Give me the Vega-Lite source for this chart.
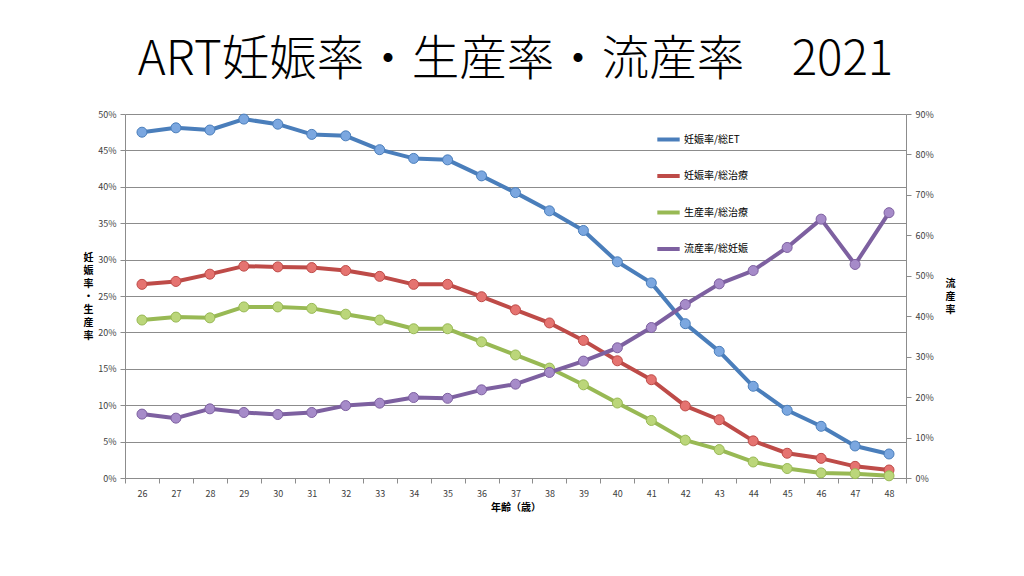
{
  "$schema": "https://vega.github.io/schema/vega-lite/v6.json",
  "width": 781,
  "height": 364,
  "autosize": {"type": "none"},
  "padding": {"left": 125, "top": 114, "right": 118, "bottom": 98},
  "background": "white",
  "title": {
    "text": "ART妊娠率・生産率・流産率　2021",
    "font": "Noto Sans CJK JP",
    "fontSize": 47.5,
    "fontWeight": 300,
    "color": "#000000",
    "anchor": "middle",
    "frame": "group",
    "offset": 26
  },
  "config": {
    "font": "Noto Sans CJK JP",
    "view": {"stroke": null},
    "axis": {
      "labelFont": "Noto Sans CJK JP",
      "titleFont": "Noto Sans CJK JP",
      "labelColor": "#404040",
      "labelFontSize": 9,
      "domainColor": "#8c8c8c",
      "tickColor": "#8c8c8c",
      "gridColor": "#8c8c8c",
      "gridOpacity": 1,
      "domainWidth": 1,
      "tickSize": 5
    }
  },
  "data": {
    "values": [
      {"age": 26, "series": "妊娠率/総ET", "rate": 0.475},
      {"age": 27, "series": "妊娠率/総ET", "rate": 0.481},
      {"age": 28, "series": "妊娠率/総ET", "rate": 0.478},
      {"age": 29, "series": "妊娠率/総ET", "rate": 0.493},
      {"age": 30, "series": "妊娠率/総ET", "rate": 0.486},
      {"age": 31, "series": "妊娠率/総ET", "rate": 0.472},
      {"age": 32, "series": "妊娠率/総ET", "rate": 0.470},
      {"age": 33, "series": "妊娠率/総ET", "rate": 0.451},
      {"age": 34, "series": "妊娠率/総ET", "rate": 0.439},
      {"age": 35, "series": "妊娠率/総ET", "rate": 0.437},
      {"age": 36, "series": "妊娠率/総ET", "rate": 0.415},
      {"age": 37, "series": "妊娠率/総ET", "rate": 0.392},
      {"age": 38, "series": "妊娠率/総ET", "rate": 0.367},
      {"age": 39, "series": "妊娠率/総ET", "rate": 0.340},
      {"age": 40, "series": "妊娠率/総ET", "rate": 0.297},
      {"age": 41, "series": "妊娠率/総ET", "rate": 0.268},
      {"age": 42, "series": "妊娠率/総ET", "rate": 0.212},
      {"age": 43, "series": "妊娠率/総ET", "rate": 0.174},
      {"age": 44, "series": "妊娠率/総ET", "rate": 0.126},
      {"age": 45, "series": "妊娠率/総ET", "rate": 0.093},
      {"age": 46, "series": "妊娠率/総ET", "rate": 0.071},
      {"age": 47, "series": "妊娠率/総ET", "rate": 0.044},
      {"age": 48, "series": "妊娠率/総ET", "rate": 0.033},
      {"age": 26, "series": "妊娠率/総治療", "rate": 0.266},
      {"age": 27, "series": "妊娠率/総治療", "rate": 0.270},
      {"age": 28, "series": "妊娠率/総治療", "rate": 0.280},
      {"age": 29, "series": "妊娠率/総治療", "rate": 0.291},
      {"age": 30, "series": "妊娠率/総治療", "rate": 0.290},
      {"age": 31, "series": "妊娠率/総治療", "rate": 0.289},
      {"age": 32, "series": "妊娠率/総治療", "rate": 0.285},
      {"age": 33, "series": "妊娠率/総治療", "rate": 0.277},
      {"age": 34, "series": "妊娠率/総治療", "rate": 0.266},
      {"age": 35, "series": "妊娠率/総治療", "rate": 0.266},
      {"age": 36, "series": "妊娠率/総治療", "rate": 0.249},
      {"age": 37, "series": "妊娠率/総治療", "rate": 0.231},
      {"age": 38, "series": "妊娠率/総治療", "rate": 0.213},
      {"age": 39, "series": "妊娠率/総治療", "rate": 0.189},
      {"age": 40, "series": "妊娠率/総治療", "rate": 0.161},
      {"age": 41, "series": "妊娠率/総治療", "rate": 0.135},
      {"age": 42, "series": "妊娠率/総治療", "rate": 0.099},
      {"age": 43, "series": "妊娠率/総治療", "rate": 0.080},
      {"age": 44, "series": "妊娠率/総治療", "rate": 0.051},
      {"age": 45, "series": "妊娠率/総治療", "rate": 0.034},
      {"age": 46, "series": "妊娠率/総治療", "rate": 0.027},
      {"age": 47, "series": "妊娠率/総治療", "rate": 0.016},
      {"age": 48, "series": "妊娠率/総治療", "rate": 0.011},
      {"age": 26, "series": "生産率/総治療", "rate": 0.217},
      {"age": 27, "series": "生産率/総治療", "rate": 0.221},
      {"age": 28, "series": "生産率/総治療", "rate": 0.220},
      {"age": 29, "series": "生産率/総治療", "rate": 0.235},
      {"age": 30, "series": "生産率/総治療", "rate": 0.235},
      {"age": 31, "series": "生産率/総治療", "rate": 0.233},
      {"age": 32, "series": "生産率/総治療", "rate": 0.225},
      {"age": 33, "series": "生産率/総治療", "rate": 0.217},
      {"age": 34, "series": "生産率/総治療", "rate": 0.205},
      {"age": 35, "series": "生産率/総治療", "rate": 0.205},
      {"age": 36, "series": "生産率/総治療", "rate": 0.187},
      {"age": 37, "series": "生産率/総治療", "rate": 0.169},
      {"age": 38, "series": "生産率/総治療", "rate": 0.151},
      {"age": 39, "series": "生産率/総治療", "rate": 0.128},
      {"age": 40, "series": "生産率/総治療", "rate": 0.103},
      {"age": 41, "series": "生産率/総治療", "rate": 0.079},
      {"age": 42, "series": "生産率/総治療", "rate": 0.052},
      {"age": 43, "series": "生産率/総治療", "rate": 0.039},
      {"age": 44, "series": "生産率/総治療", "rate": 0.022},
      {"age": 45, "series": "生産率/総治療", "rate": 0.013},
      {"age": 46, "series": "生産率/総治療", "rate": 0.007},
      {"age": 47, "series": "生産率/総治療", "rate": 0.006},
      {"age": 48, "series": "生産率/総治療", "rate": 0.003},
      {"age": 26, "series": "流産率/総妊娠", "rate": 0.158},
      {"age": 27, "series": "流産率/総妊娠", "rate": 0.148},
      {"age": 28, "series": "流産率/総妊娠", "rate": 0.171},
      {"age": 29, "series": "流産率/総妊娠", "rate": 0.162},
      {"age": 30, "series": "流産率/総妊娠", "rate": 0.157},
      {"age": 31, "series": "流産率/総妊娠", "rate": 0.162},
      {"age": 32, "series": "流産率/総妊娠", "rate": 0.179},
      {"age": 33, "series": "流産率/総妊娠", "rate": 0.185},
      {"age": 34, "series": "流産率/総妊娠", "rate": 0.199},
      {"age": 35, "series": "流産率/総妊娠", "rate": 0.197},
      {"age": 36, "series": "流産率/総妊娠", "rate": 0.218},
      {"age": 37, "series": "流産率/総妊娠", "rate": 0.232},
      {"age": 38, "series": "流産率/総妊娠", "rate": 0.261},
      {"age": 39, "series": "流産率/総妊娠", "rate": 0.289},
      {"age": 40, "series": "流産率/総妊娠", "rate": 0.322},
      {"age": 41, "series": "流産率/総妊娠", "rate": 0.372},
      {"age": 42, "series": "流産率/総妊娠", "rate": 0.429},
      {"age": 43, "series": "流産率/総妊娠", "rate": 0.480},
      {"age": 44, "series": "流産率/総妊娠", "rate": 0.513},
      {"age": 45, "series": "流産率/総妊娠", "rate": 0.570},
      {"age": 46, "series": "流産率/総妊娠", "rate": 0.640},
      {"age": 47, "series": "流産率/総妊娠", "rate": 0.528},
      {"age": 48, "series": "流産率/総妊娠", "rate": 0.656}
    ]
  },
  "encoding": {
    "x": {
      "field": "age",
      "type": "ordinal",
      "bandPosition": 0.5,
      "scale": {"type": "band", "paddingInner": 0, "paddingOuter": 0},
      "axis": {
        "labelAngle": 0,
        "tickBand": "extent",
        "grid": false,
        "labelPadding": 6,
        "title": "年齢（歳）",
        "titleFontSize": 10,
        "titleFontWeight": "bold",
        "titlePadding": 4,
        "titleColor": "#000000"
      }
    }
  },
  "layer": [
    {
      "transform": [{"filter": "datum.series !== '流産率/総妊娠'"}],
      "encoding": {
        "y": {
          "field": "rate",
          "type": "quantitative",
          "scale": {"domain": [0, 0.5], "nice": false},
          "axis": {
            "orient": "left",
            "values": [0, 0.05, 0.1, 0.15, 0.2, 0.25, 0.3, 0.35, 0.4, 0.45, 0.5],
            "format": ".0%",
            "grid": true,
            "labelPadding": 4,
            "title": ["妊", "娠", "率", "・", "生", "産", "率"],
            "titleAngle": 0,
            "titleAlign": "center",
            "titleBaseline": "middle",
            "titleFontSize": 10,
            "titleFontWeight": "bold",
            "titleLineHeight": 13,
            "titleX": -37,
            "titleY": 143,
            "titleColor": "#000000"
          }
        }
      },
      "layer": [
        {
          "mark": {"type": "line", "strokeWidth": 4, "strokeJoin": "round"},
          "encoding": {
            "color": {
              "field": "series",
              "type": "nominal",
              "scale": {
                "domain": ["妊娠率/総ET", "妊娠率/総治療", "生産率/総治療", "流産率/総妊娠"],
                "range": ["#4A7EBB", "#BE4B48", "#98B954", "#7D60A0"]
              },
              "legend": {
                "title": null,
                "orient": "none",
                "legendX": 530,
                "legendY": 12,
                "symbolType": "stroke",
                "symbolSize": 500,
                "symbolStrokeWidth": 4,
                "labelFontSize": 10,
                "labelColor": "#000000",
                "rowPadding": 14.5,
                "labelOffset": 2
              }
            }
          }
        },
        {
          "mark": {"type": "point", "filled": true, "size": 100, "strokeWidth": 1, "opacity": 1},
          "encoding": {
            "fill": {
              "field": "series",
              "type": "nominal",
              "scale": {
                "domain": ["妊娠率/総ET", "妊娠率/総治療", "生産率/総治療", "流産率/総妊娠"],
                "range": ["#7BA7E0", "#E57370", "#BBD67A", "#A68BC9"]
              },
              "legend": null
            },
            "stroke": {
              "field": "series",
              "type": "nominal",
              "scale": {
                "domain": ["妊娠率/総ET", "妊娠率/総治療", "生産率/総治療", "流産率/総妊娠"],
                "range": ["#4A7EBB", "#BE4B48", "#98B954", "#7D60A0"]
              },
              "legend": null
            }
          }
        }
      ]
    },
    {
      "transform": [{"filter": "datum.series === '流産率/総妊娠'"}],
      "encoding": {
        "y": {
          "field": "rate",
          "type": "quantitative",
          "scale": {"domain": [0, 0.9], "nice": false},
          "axis": {
            "orient": "right",
            "values": [0, 0.1, 0.2, 0.3, 0.4, 0.5, 0.6, 0.7, 0.8, 0.9],
            "format": ".0%",
            "grid": false,
            "labelPadding": 4,
            "title": ["流", "産", "率"],
            "titleAngle": 0,
            "titleAlign": "center",
            "titleBaseline": "middle",
            "titleFontSize": 10,
            "titleFontWeight": "bold",
            "titleLineHeight": 13,
            "titleX": 44,
            "titleY": 169,
            "titleColor": "#000000"
          }
        }
      },
      "layer": [
        {
          "mark": {"type": "line", "strokeWidth": 4, "strokeJoin": "round"},
          "encoding": {
            "color": {"field": "series", "type": "nominal"}
          }
        },
        {
          "mark": {"type": "point", "filled": true, "size": 100, "strokeWidth": 1, "opacity": 1},
          "encoding": {
            "fill": {"field": "series", "type": "nominal", "legend": null},
            "stroke": {"field": "series", "type": "nominal", "legend": null}
          }
        }
      ]
    }
  ],
  "resolve": {"scale": {"y": "independent"}}
}
